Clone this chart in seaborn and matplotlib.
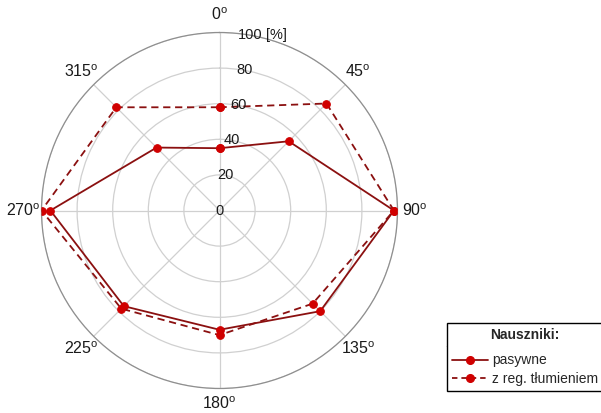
import numpy as np
import pandas as pd
import matplotlib
matplotlib.use("Agg")
import matplotlib.pyplot as plt
from matplotlib.lines import Line2D
import seaborn as sns

# Directions (degrees, clockwise from the top) and their labels
angles_deg = [0, 45, 90, 135, 180, 225, 270, 315]
angle_labels = ["0", "45", "90", "135", "180", "225", "270", "315"]

# Attenuation per direction [%]
pasywne = [35, 55, 98, 80, 67, 76, 95, 50]
z_reg_tlumieniem = [58, 85, 98, 74, 70, 78, 100, 82]

series_names = ["pasywne", "z reg. tłumieniem"]
legend_title = "Nauszniki:"

r_ticks = [0, 20, 40, 60, 80, 100]
r_tick_labels = ["0", "20", "40", "60", "80", "100"]
r_unit = "[%]"

sns.set_style("white")
plt.rcParams["font.family"] = ["Liberation Sans", "DejaVu Sans"]
plt.rcParams["mathtext.fontset"] = "custom"
plt.rcParams["mathtext.rm"] = "Liberation Sans"

line_color = "#8b1010"
marker_color = "#d00000"
grid_color = "#d0d0d0"
text_color = "#1a1a1a"

W, H = 601, 413
fig = plt.figure(figsize=(W / 100, H / 100), dpi=100)
cx, cy, R = 219.5, 210.5, 178
ax = fig.add_axes([(cx - R) / W, 1 - (cy + R) / H, 2 * R / W, 2 * R / H],
                  projection="polar")
ax.set_theta_zero_location("N")
ax.set_theta_direction(-1)


def closed_frame(values):
    theta = np.deg2rad(angles_deg + [360])
    return pd.DataFrame({"theta": theta, "r": list(values) + [values[0]]})


marker_kw = dict(marker="o", markersize=5.5, markerfacecolor=marker_color,
                 markeredgecolor=marker_color)
sns.lineplot(data=closed_frame(pasywne), x="theta", y="r", ax=ax, sort=False,
             estimator=None, color=line_color, lw=1.3, zorder=3, **marker_kw)
sns.lineplot(data=closed_frame(z_reg_tlumieniem), x="theta", y="r", ax=ax,
             sort=False, estimator=None, color=line_color, lw=1.3,
             linestyle=(0, (4, 2.6)), zorder=3, **marker_kw)

ax.set_ylim(0, 100)
ax.set_xlabel("")
ax.set_ylabel("")
ax.set_xticks(np.deg2rad(angles_deg))
ax.set_xticklabels([])
ax.set_yticks(r_ticks[1:])
ax.set_yticklabels([])
ax.grid(True, color=grid_color, lw=0.9)
ax.spines["polar"].set_color("#8f8f8f")
ax.spines["polar"].set_linewidth(0.9)

# Radial scale labels along a ray slightly right of the top
lab_theta = np.deg2rad(10)
for r, lab in zip(r_ticks, r_tick_labels):
    ax.text(lab_theta if r else 0, r, lab, ha="center", va="center",
            fontsize=10.5, color=text_color, zorder=4)
ax.annotate(r_unit, xy=(lab_theta, 100), xytext=(11, 0),
            textcoords="offset points", ha="left", va="center",
            fontsize=10.5, color=text_color, annotation_clip=False)

# Direction labels outside the rim
for a, lab in zip(angles_deg, angle_labels):
    rr = 108.5 if a == 180 else 110
    ax.text(np.deg2rad(a), rr, lab + r"$^{\mathrm{o}}$", ha="center",
            va="center", fontsize=11.5, color=text_color, clip_on=False)

handles = [
    Line2D([], [], color=line_color, lw=1.3, **marker_kw),
    Line2D([], [], color=line_color, lw=1.3, linestyle=(0, (3, 2.2)),
           **marker_kw),
]
leg = fig.legend(handles, series_names, title=legend_title, loc="upper left",
                 bbox_to_anchor=(446.7 / W, 1 - 322.7 / H), borderaxespad=0,
                 frameon=True, fancybox=False, edgecolor="black",
                 fontsize=10, title_fontproperties={"weight": "bold",
                                                    "size": 10},
                 handlelength=2.6, handletextpad=0.25, borderpad=0.4,
                 labelspacing=0.3, numpoints=1, framealpha=1)
leg.get_frame().set_linewidth(1.0)
# extra room between the title row and the entries
leg._legend_box.sep = 8

fig.canvas.draw()
renderer = fig.canvas.get_renderer()
lb = leg.get_window_extent(renderer)
tb = leg.get_title().get_window_extent(renderer)
y_sep = (tb.y0 - 4) / H
fig.add_artist(Line2D([lb.x0 / W, lb.x1 / W], [y_sep, y_sep],
                      transform=fig.transFigure, color="black", lw=1.0))

fig.savefig("out.png", dpi=100)
